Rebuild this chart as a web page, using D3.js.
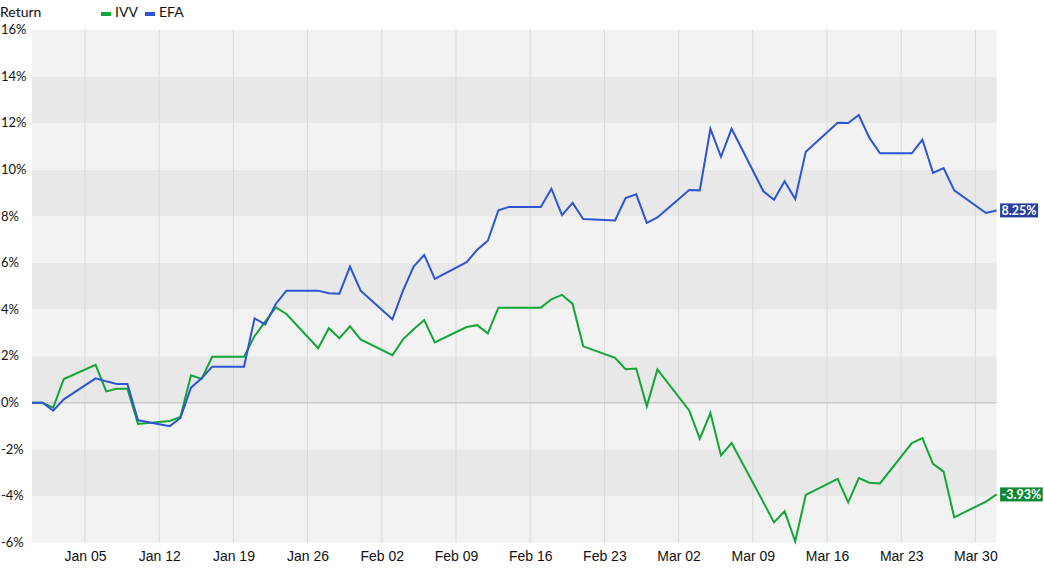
<!DOCTYPE html>
<html>
<head>
<meta charset="utf-8">
<script src="https://cdn.jsdelivr.net/npm/d3@7"></script>
<style>
  body { margin: 0; background: #fff; }
  svg { display: block; font-family: "Lato", "Noto Sans", sans-serif; }
</style>
</head>
<body>
<div id="chart"></div>
<script>
// Trading days (holidays carried flat), cumulative return in %
var dates = [
  '2024-12-31', '2025-01-01', '2025-01-02', '2025-01-03',
  '2025-01-06', '2025-01-07', '2025-01-08', '2025-01-09', '2025-01-10',
  '2025-01-13', '2025-01-14', '2025-01-15', '2025-01-16', '2025-01-17',
  '2025-01-20', '2025-01-21', '2025-01-22', '2025-01-23', '2025-01-24',
  '2025-01-27', '2025-01-28', '2025-01-29', '2025-01-30', '2025-01-31',
  '2025-02-03', '2025-02-04', '2025-02-05', '2025-02-06', '2025-02-07',
  '2025-02-10', '2025-02-11', '2025-02-12', '2025-02-13', '2025-02-14',
  '2025-02-17', '2025-02-18', '2025-02-19', '2025-02-20', '2025-02-21',
  '2025-02-24', '2025-02-25', '2025-02-26', '2025-02-27', '2025-02-28',
  '2025-03-03', '2025-03-04', '2025-03-05', '2025-03-06', '2025-03-07',
  '2025-03-10', '2025-03-11', '2025-03-12', '2025-03-13', '2025-03-14',
  '2025-03-17', '2025-03-18', '2025-03-19', '2025-03-20', '2025-03-21',
  '2025-03-24', '2025-03-25', '2025-03-26', '2025-03-27', '2025-03-28',
  '2025-03-31', '2025-04-01'
];

var ivv = [
  0, 0, -0.21, 1.02,
  1.63, 0.49, 0.6, 0.6, -0.91,
  -0.78, -0.61, 1.18, 1.02, 1.97,
  1.97, 2.86, 3.48, 4.09, 3.81,
  2.34, 3.2, 2.77, 3.28, 2.72,
  2.04, 2.72, 3.15, 3.55, 2.59,
  3.25, 3.33, 2.98, 4.08, 4.08,
  4.08, 4.44, 4.63, 4.24, 2.42,
  1.93, 1.44, 1.47, -0.15, 1.43,
  -0.33, -1.54, -0.44, -2.26, -1.73,
  -4.27, -5.13, -4.65, -5.94, -3.95,
  -3.26, -4.27, -3.23, -3.43, -3.46,
  -1.73, -1.51, -2.62, -2.95, -4.91,
  -4.24, -3.93
];

var efa = [
  0, 0, -0.34, 0.15,
  1.05, 0.92, 0.81, 0.81, -0.75,
  -1.0, -0.65, 0.65, 1.05, 1.55,
  1.55, 3.62, 3.36, 4.24, 4.81,
  4.81, 4.7, 4.68, 5.84, 4.81,
  3.58, 4.81, 5.84, 6.34, 5.31,
  6.03, 6.56, 6.95, 8.25, 8.4,
  8.4, 9.18, 8.05, 8.57, 7.88,
  7.82, 8.78, 8.94, 7.72, 7.95,
  9.13, 9.11, 11.75, 10.55, 11.75,
  9.07, 8.71, 9.5, 8.74, 10.77,
  12.01, 12.0, 12.34, 11.36, 10.7,
  10.7, 11.29, 9.86, 10.07, 9.11,
  8.14, 8.25
];

var seriesNames = ['IVV', 'EFA'];
var seriesColors = ['#12a537', '#2d54d1'];
var labelColors = ['#0b8a34', '#263f9e'];
var yTicks = [-6, -4, -2, 0, 2, 4, 6, 8, 10, 12, 14, 16];

var width = 1044, height = 569;
var plot = { left: 32, right: 996.6, top: 29.7, bottom: 542.7 };

var parse = d3.timeParse('%Y-%m-%d');
var days = dates.map(parse);

var svg = d3.select('#chart').append('svg')
  .attr('width', width)
  .attr('height', height);

var x = d3.scaleTime()
  .domain(d3.extent(days))
  .range([plot.left, plot.right]);

var y = d3.scaleLinear()
  .domain([-6, 16])
  .range([plot.bottom, plot.top]);

// Alternating bands, one per 2% step
var bands = d3.pairs(yTicks);
svg.append('g').selectAll('rect')
  .data(bands)
  .join('rect')
  .attr('x', plot.left)
  .attr('width', plot.right - plot.left)
  .attr('y', d => y(d[1]))
  .attr('height', d => y(d[0]) - y(d[1]))
  .attr('fill', (d, i) => i % 2 === 0 ? '#f2f2f2' : '#e8e8e8');

// Weekly gridlines (Sundays)
var weekTicks = d3.timeSunday.range(d3.timeDay.offset(days[0], 1), days[days.length - 1]);
svg.append('g').selectAll('line')
  .data(weekTicks)
  .join('line')
  .attr('x1', d => x(d)).attr('x2', d => x(d))
  .attr('y1', plot.top).attr('y2', plot.bottom)
  .attr('stroke', '#d9d9d9')
  .attr('stroke-width', 1);

// Zero line
svg.append('line')
  .attr('x1', plot.left).attr('x2', plot.right)
  .attr('y1', y(0)).attr('y2', y(0))
  .attr('stroke', '#c4c4c4')
  .attr('stroke-width', 1.2);

// Y tick labels
svg.append('g').selectAll('text')
  .data(yTicks)
  .join('text')
  .attr('x', 1)
  .attr('y', d => y(d) + 1)
  .attr('dominant-baseline', 'middle')
  .attr('font-size', 13)
  .attr('fill', '#111')
  .text(d => d + '%');

// X axis labels
var xAxis = d3.axisBottom(x)
  .tickValues(weekTicks)
  .tickFormat(d3.timeFormat('%b %d'))
  .tickSize(0)
  .tickPadding(8);

var gx = svg.append('g')
  .attr('transform', 'translate(0,' + plot.bottom + ')')
  .call(xAxis);
gx.select('.domain').remove();
gx.selectAll('text')
  .attr('font-family', null)
  .attr('font-size', 14)
  .attr('fill', '#111');

// Lines
var line = d3.line()
  .x((d, i) => x(days[i]))
  .y(d => y(d));

var series = [ivv, efa];
series.forEach(function(values, k) {
  svg.append('path')
    .datum(values)
    .attr('d', line)
    .attr('fill', 'none')
    .attr('stroke', seriesColors[k])
    .attr('stroke-width', 2)
    .attr('stroke-linejoin', 'miter');
});

// End labels (plain hyphen for the minus, like the original)
series.forEach(function(values, k) {
  var last = values[values.length - 1];
  var g = svg.append('g')
    .attr('transform', 'translate(' + (plot.right + 3.5) + ',' + y(last) + ')');
  var rect = g.append('rect').attr('fill', labelColors[k]);
  var t = g.append('text')
    .attr('x', 1.5)
    .attr('y', 1)
    .attr('dominant-baseline', 'middle')
    .attr('font-size', 12.5)
    .attr('font-weight', 'bold')
    .attr('fill', '#fff')
    .text(last.toFixed(2) + '%');
  var bb = t.node().getBBox();
  rect.attr('x', 0).attr('y', -7)
    .attr('width', bb.width + 3).attr('height', 14);
});

// Header: axis title and legend
svg.append('text')
  .attr('x', 0).attr('y', 17)
  .attr('font-size', 14)
  .attr('fill', '#111')
  .text('Return');

var legend = svg.append('g').selectAll('g')
  .data(seriesNames)
  .join('g')
  .attr('transform', (d, i) => 'translate(' + (101 + i * 44) + ',0)');
legend.append('rect')
  .attr('x', 0).attr('y', 12)
  .attr('width', 10).attr('height', 4)
  .attr('fill', (d, i) => seriesColors[i]);
legend.append('text')
  .attr('x', 14).attr('y', 17)
  .attr('font-size', 14)
  .attr('fill', '#111')
  .text(d => d);
</script>
</body>
</html>
